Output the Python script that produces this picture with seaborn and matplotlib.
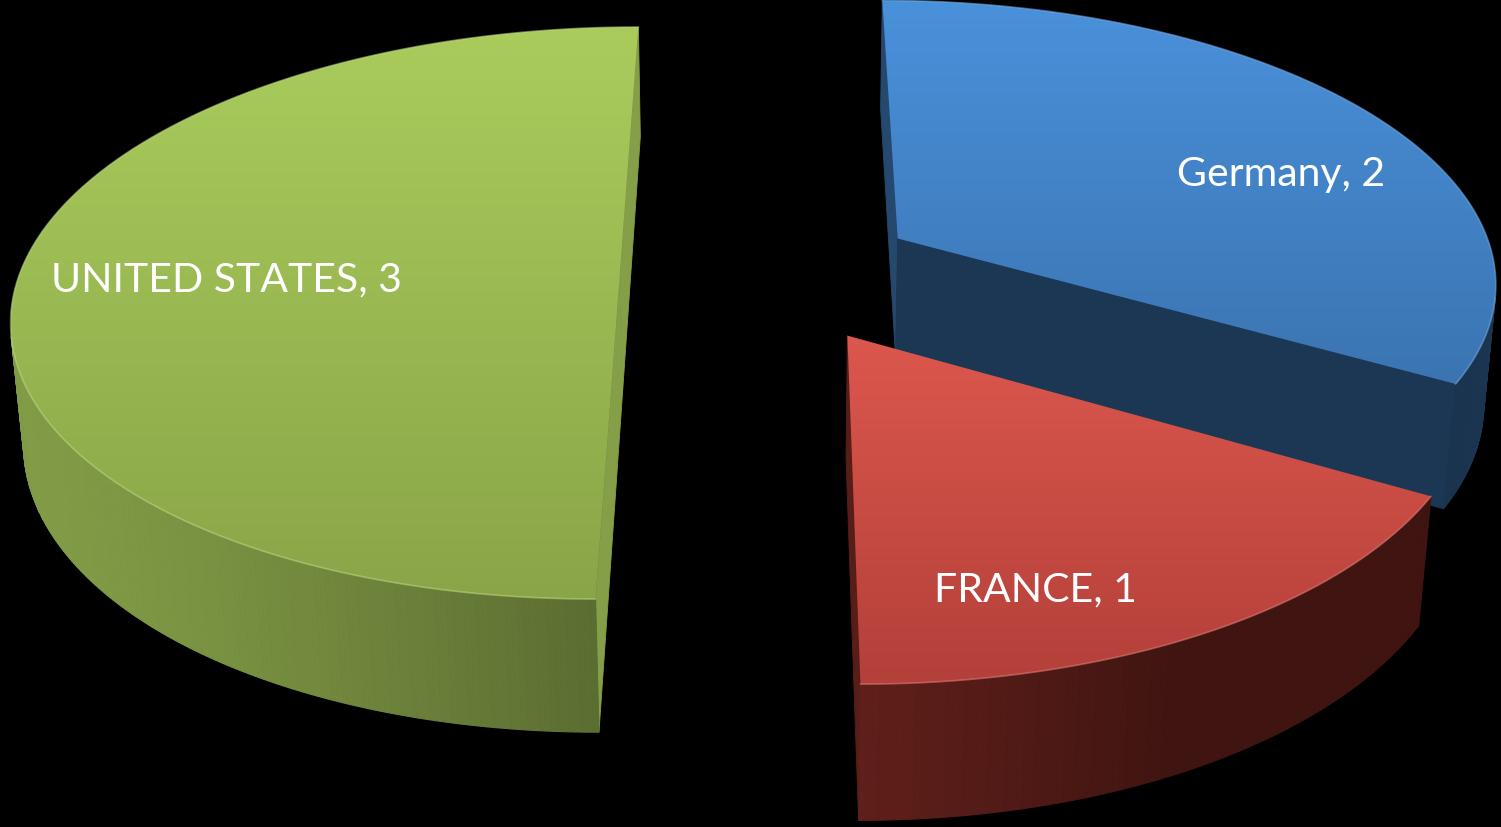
import numpy as np
import matplotlib
matplotlib.use("Agg")
import matplotlib.pyplot as plt
import seaborn as sns
from matplotlib.patches import Polygon
from matplotlib.colors import LinearSegmentedColormap, to_rgb

# Chart data
countries = ["Germany", "FRANCE", "UNITED STATES"]
values = [2, 1, 3]

# Top-face gradient colours (light at the far edge, darker toward the front)
face_light = ["#4A91DB", "#DC574D", "#AACC5C"]
face_dark = ["#3B74B1", "#B3403A", "#8AA548"]
# Base colours for the walls of each slice
wall_base = ["#4A91DB", "#B23A30", "#AACC5C"]

sns.set_theme(style="dark", rc={"figure.facecolor": "black",
                                "axes.facecolor": "black",
                                "savefig.facecolor": "black"})
plt.rcParams["font.family"] = ["Lato", "DejaVu Sans"]

W, H = 1501, 828
fig = plt.figure(figsize=(W / 100, H / 100), dpi=100)
ax = fig.add_axes([0, 0, 1, 1])
ax.set_xlim(0, W)
ax.set_ylim(H, 0)
ax.axis("off")

# Perspective camera looking down on the pie plane (radius 1)
elev = np.radians(27.86)
dist = 6.316
focal = 3790.0
cx, cy = 770.0, 274.0
thick = 0.2306
explode = 0.25
cam_xy = np.array([0.0, -dist * np.cos(elev)])
light = np.array([-0.9, -0.44])
light /= np.linalg.norm(light)


def project(x, y, z):
    x, y, z = np.broadcast_arrays(np.asarray(x, float), np.asarray(y, float),
                                  np.asarray(z, float))
    depth = dist + y * np.cos(elev) - z * np.sin(elev)
    up = y * np.sin(elev) + z * np.cos(elev)
    return np.column_stack([cx + focal * x / depth, cy - focal * up / depth])


def shade(color, f):
    return tuple(np.clip(np.array(to_rgb(color)) * f, 0, 1))


def tint(color, f):
    c = np.array(to_rgb(color))
    return tuple(c + (1 - c) * f)


# Slice angles: clockwise from 12 o'clock
total = float(sum(values))
bounds = 90 - 360 * np.concatenate([[0], np.cumsum(values)]) / total
wedges = []
for i, name in enumerate(countries):
    hi, lo = bounds[i], bounds[i + 1]
    mid = np.radians((hi + lo) / 2)
    ox, oy = explode * np.cos(mid), explode * np.sin(mid)
    wedges.append(dict(i=i, lo=lo, hi=hi, ox=ox, oy=oy))

# Paint from the back of the scene to the front
wedges.sort(key=lambda w: -w["oy"])
z = 1
for w in wedges:
    i, lo, hi, ox, oy = w["i"], w["lo"], w["hi"], w["ox"], w["oy"]
    base = wall_base[i]

    # flat radial faces
    for ang, sign in ((hi, 1), (lo, -1)):
        a = np.radians(ang)
        n = np.array([np.cos(a + sign * np.pi / 2), np.sin(a + sign * np.pi / 2)])
        if n @ (cam_xy - np.array([ox, oy])) <= 0:
            continue
        ex, ey = ox + np.cos(a), oy + np.sin(a)
        quad = np.vstack([project([ox, ex], [oy, ey], 0),
                          project([ex, ox], [ey, oy], -thick)])
        if abs(n[1]) < 0.3:
            f = 0.78 if n[0] > 0 else 0.5
        else:
            f = 0.38
        ax.add_patch(Polygon(quad, closed=True, fc=shade(base, f),
                             ec=shade(base, f), lw=0.6, zorder=z))
    z += 1

    # curved outer wall, shaded facet by facet
    phis = np.radians(np.linspace(lo, hi, int(abs(hi - lo) * 2) + 2))
    for p1, p2 in zip(phis[:-1], phis[1:]):
        pm = (p1 + p2) / 2
        n = np.array([np.cos(pm), np.sin(pm)])
        pt = np.array([ox, oy]) + n
        if n @ (cam_xy - pt) <= 0:
            continue
        xs = ox + np.cos([p1, p2])
        ys = oy + np.sin([p1, p2])
        quad = np.vstack([project(xs, ys, 0), project(xs[::-1], ys[::-1], -thick)])
        f = 0.36 + 0.40 * max(0, n @ light)
        col = shade(base, f)
        ax.add_patch(Polygon(quad, closed=True, fc=col, ec=col, lw=0.8, zorder=z))
    z += 1

    # top face with vertical gradient
    arc = np.radians(np.linspace(lo, hi, 240))
    rim = project(ox + np.cos(arc), oy + np.sin(arc), 0)
    top = np.vstack([project(ox, oy, 0), rim])
    poly = Polygon(top, closed=True, fc="none", ec="none", zorder=z)
    ax.add_patch(poly)
    cmap = LinearSegmentedColormap.from_list(f"top{i}", [face_light[i], face_dark[i]])
    grad = np.linspace(0, 1, 256).reshape(-1, 1)
    u0, v0 = top.min(axis=0)
    u1, v1 = top.max(axis=0)
    im = ax.imshow(grad, cmap=cmap, extent=(u0, u1, v1, v0), origin="upper",
                   aspect="auto", interpolation="bilinear", zorder=z)
    im.set_clip_path(poly)
    z += 1
    # soft highlight along the rim of the top face
    ax.plot(rim[:, 0], rim[:, 1], color=tint(face_light[i], 0.25), lw=1.2,
            alpha=0.55, solid_capstyle="round", zorder=z)
    z += 1

# Data labels
label_pos = {"Germany": (1281, 186), "FRANCE": (1035, 601), "UNITED STATES": (226, 291)}
for name, val in zip(countries, values):
    x, y = label_pos[name]
    ax.text(x, y, f"{name}, {val}", color="white", fontsize=29.5,
            ha="center", va="baseline", zorder=z + 5)

ax.set_xlim(0, W)
ax.set_ylim(H, 0)
fig.savefig("out.png", dpi=100, facecolor="black")
